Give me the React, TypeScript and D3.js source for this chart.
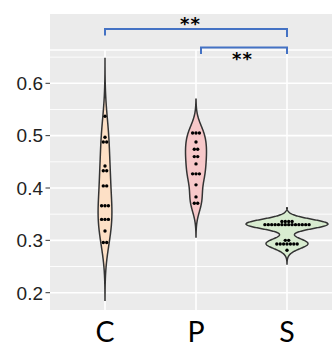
import React from 'react';
import * as d3 from 'd3';

const categories = ['C', 'P', 'S'];
const yTicks = [0.2, 0.3, 0.4, 0.5, 0.6];
const yMinorTicks = [0.25, 0.35, 0.45, 0.55, 0.65];

const cBinValues = [0.537, 0.497, 0.488, 0.442, 0.433, 0.404, 0.366, 0.34, 0.318, 0.296];
const cBinCounts = [1, 1, 2, 1, 2, 2, 3, 3, 1, 2];
const pBinValues = [0.505, 0.488, 0.474, 0.46, 0.446, 0.427, 0.406, 0.383, 0.371];
const pBinCounts = [3, 1, 2, 2, 1, 3, 1, 1, 2];
const sBinValues = [0.336, 0.33, 0.3, 0.293, 0.281];
const sBinCounts = [4, 14, 2, 7, 1];

const fills = ['#FDE0C6', '#F7C8C9', '#D8ECD0'];
const comparisonFrom = ['C', 'P'];
const comparisonTo = ['S', 'S'];
const comparisonLabels = ['**', '**'];

const W = 332;
const H = 347;
const panelLeft = 50;
const panelTop = 14;
const plotTop = 50;
const panelBottom = 310;
const dotR = 1.7;

function nrd0(v: number[]) {
  const s = [...v].sort(d3.ascending);
  const sd = d3.deviation(s) as number;
  const iqr = ((d3.quantile(s, 0.75) as number) - (d3.quantile(s, 0.25) as number)) / 1.34;
  let lo = Math.min(sd, iqr);
  if (!(lo > 0)) lo = sd || 1;
  return 0.9 * lo * Math.pow(v.length, -0.2);
}

function kde(v: number[]) {
  const bw = nrd0(v);
  const [mn, mx] = d3.extent(v) as [number, number];
  const lo = mn - 3 * bw;
  const hi = mx + 3 * bw;
  const N = 256;
  return d3.range(N).map((i) => {
    const y = lo + ((hi - lo) * i) / (N - 1);
    const d =
      (d3.mean(v, (x) => Math.exp(-0.5 * ((y - x) / bw) ** 2)) as number) /
      (bw * Math.sqrt(2 * Math.PI));
    return [y, d] as [number, number];
  });
}

function expand(vals: number[], counts: number[]) {
  const out: number[] = [];
  vals.forEach((v, i) => {
    for (let k = 0; k < counts[i]; k++) out.push(v);
  });
  return out;
}

export default function App() {
  const groups = [
    { key: 'C', vals: cBinValues, counts: cBinCounts },
    { key: 'P', vals: pBinValues, counts: pBinCounts },
    { key: 'S', vals: sBinValues, counts: sBinCounts },
  ].map((g, i) => {
    const data = expand(g.vals, g.counts);
    return { ...g, data, dens: kde(data), fill: fills[i] };
  });
  const maxD = d3.max(groups, (g) => d3.max(g.dens, (d) => d[1]) as number) as number;

  const x = d3.scalePoint<string>().domain(categories).range([105, 287]);
  const step = x.step();
  const y = d3.scaleLinear().domain([0.2, 0.6]).range([292.7, 83.3]);
  const wScale = d3.scaleLinear().domain([0, maxD]).range([0, 0.45 * step]);

  return (
    <svg width={W} height={H} style={{ position: 'absolute', left: 0, top: 0 }}>
      <rect x={0} y={0} width={W} height={H} fill="#fff" />
      <rect x={panelLeft} y={panelTop} width={W - panelLeft} height={panelBottom - panelTop} fill="#EBEBEB" />
      {yMinorTicks.map((t) => (
        <line key={'m' + t} x1={panelLeft} x2={W} y1={y(t)} y2={y(t)} stroke="#fff" strokeWidth={0.9} />
      ))}
      {yTicks.map((t) => (
        <line key={'M' + t} x1={panelLeft} x2={W} y1={y(t)} y2={y(t)} stroke="#fff" strokeWidth={1.6} />
      ))}
      {categories.map((c) => (
        <line key={'v' + c} x1={x(c)} x2={x(c)} y1={plotTop} y2={panelBottom} stroke="#fff" strokeWidth={1.6} />
      ))}
      <line x1={panelLeft} x2={W} y1={plotTop} y2={plotTop} stroke="#fff" strokeWidth={1.6} />

      {groups.map((g) => {
        const cx = x(g.key) as number;
        const area = d3
          .area<[number, number]>()
          .y((d) => y(d[0]))
          .x0((d) => cx - wScale(d[1]))
          .x1((d) => cx + wScale(d[1]));
        return (
          <g key={g.key}>
            <path d={area(g.dens) as string} fill={g.fill} stroke="#333" strokeWidth={1.5} />
            {g.vals.map((v, i) =>
              d3.range(g.counts[i]).map((k) => (
                <circle
                  key={v + '-' + k}
                  cx={cx + (k - (g.counts[i] - 1) / 2) * 2 * dotR}
                  cy={y(v)}
                  r={dotR}
                  fill="#000"
                />
              ))
            )}
          </g>
        );
      })}

      {yTicks.map((t) => (
        <g key={'t' + t}>
          <line x1={45.5} x2={panelLeft} y1={y(t)} y2={y(t)} stroke="#333" strokeWidth={1} />
          <text
            x={43}
            y={y(t)}
            dy="0.36em"
            textAnchor="end"
            fontFamily="'Liberation Sans', Arial, sans-serif"
            fontSize={19}
            fill="#222"
          >
            {t.toFixed(1)}
          </text>
        </g>
      ))}

      {categories.map((c) => (
        <text
          key={'x' + c}
          x={x(c)}
          y={342}
          textAnchor="middle"
          fontFamily="Lato, 'Open Sans', sans-serif"
          fontSize={28.5}
          fill="#000"
        >
          {c}
        </text>
      ))}

      {comparisonFrom.map((f, i) => {
        const x1 = (x(f) as number) + (i === 1 ? 5 : 0);
        const x2 = x(comparisonTo[i]) as number;
        const by = i === 0 ? 29 : 47.5;
        const tipL = i === 0 ? 35.5 : 54;
        const tipR = i === 0 ? 37 : 54;
        const ty = i === 0 ? 30 : 64.5;
        return (
          <g key={'cmp' + i}>
            <path
              d={`M${x1},${tipL}V${by}H${x2}V${tipR}`}
              fill="none"
              stroke="#4472C4"
              strokeWidth={2}
            />
            <text
              x={i === 0 ? 190.5 : 242.5}
              y={ty}
              textAnchor="middle"
              fontFamily="'DejaVu Sans', sans-serif"
              fontWeight="bold"
              fontSize={18}
              letterSpacing={1}
              fill="#000"
            >
              {comparisonLabels[i]}
            </text>
          </g>
        );
      })}
    </svg>
  );
}
